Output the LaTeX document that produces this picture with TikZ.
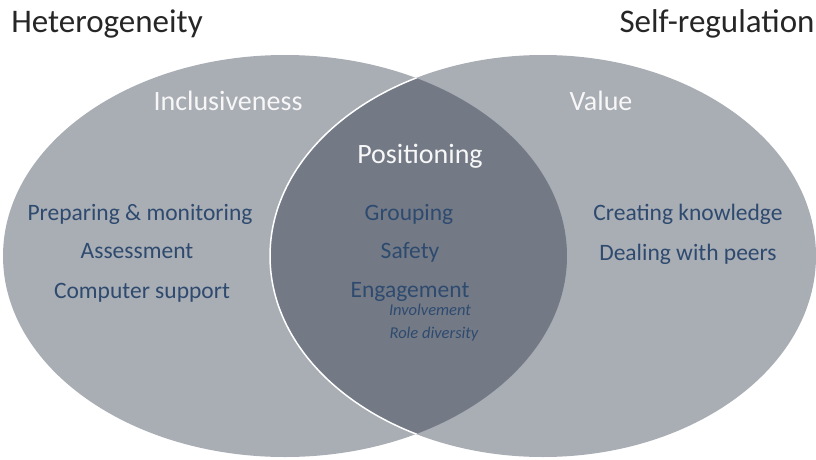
\documentclass[tikz,border=0pt]{standalone}
\usepackage{fontspec}
\setmainfont{Carlito}
\usepackage{tikz}
\definecolor{setgray}{HTML}{A9ADB4}
\definecolor{cutgray}{HTML}{737A86}
\definecolor{itemblue}{HTML}{2E4A6F}

\begin{document}
\begin{tikzpicture}[x=1pt, y=-1pt,
  title/.style={anchor=base, font=\fontsize{33}{33}\selectfont, text=black!85},
  head/.style={anchor=base, font=\fontsize{28}{28}\selectfont, text=white!94!gray},
  item/.style={anchor=base, font=\fontsize{23.5}{23.5}\selectfont, text=itemblue},
  sub/.style={anchor=base, font=\fontsize{16.5}{16.5}\selectfont\itshape, text=itemblue}]
  \useasboundingbox (0,0) rectangle (816,460);
  \coordinate (hl) at (285,256);
  \coordinate (sr) at (543,256);
  \fill[setgray] (hl) ellipse [x radius=282, y radius=201];
  \fill[setgray] (sr) ellipse [x radius=273, y radius=201];
  \begin{scope}
    \clip (hl) ellipse [x radius=282, y radius=201];
    \fill[cutgray] (sr) ellipse [x radius=273, y radius=201];
    \draw[white, line width=1.5pt] (sr) ellipse [x radius=273, y radius=201];
  \end{scope}
  \node[title] (het) at (107,33) {Heterogeneity};
  \node[title] (selfreg) at (717,33) {Self-regulation};
  \node[head] (incl) at (228,110) {Inclusiveness};
  \node[head] (value) at (601,110) {Value};
  \node[head] (pos) at (420,163) {Positioning};
  \node[item] (prep) at (140,220) {Preparing \& monitoring};
  \node[item] (assess) at (137,258) {Assessment};
  \node[item] (comp) at (142,298) {Computer support};
  \node[item] (group) at (409,220) {Grouping};
  \node[item] (safety) at (410,258) {Safety};
  \node[item] (engage) at (410,297) {Engagement};
  \node[sub] (involve) at (430,315) {Involvement};
  \node[sub] (role) at (434,338) {Role diversity};
  \node[item] (create) at (688,220) {Creating knowledge};
  \node[item] (peers) at (688,260) {Dealing with peers};
\end{tikzpicture}
\end{document}
